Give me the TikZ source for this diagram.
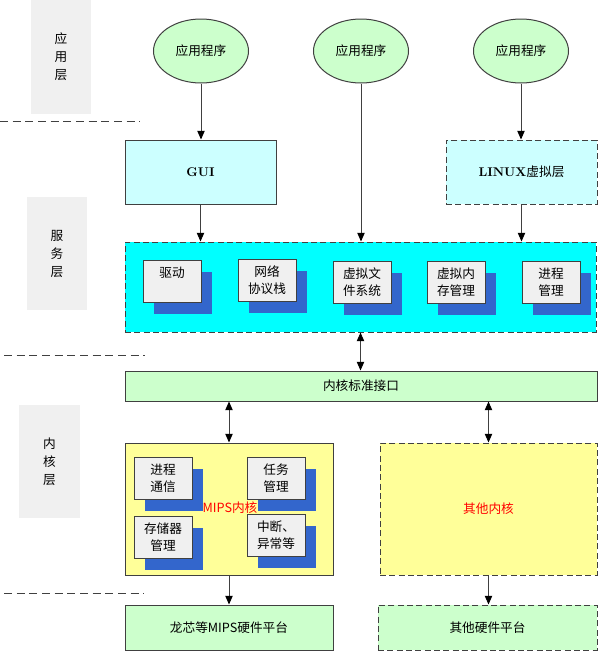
\documentclass[tikz,border=0pt]{standalone}
\usepackage{fontspec}
\newfontfamily\cjk{Noto Sans CJK SC}
\usetikzlibrary{arrows.meta,shapes.geometric}
\definecolor{lichtgroen}{HTML}{CCFFCC}
\definecolor{lichtblauw}{HTML}{CCFFFF}
\definecolor{cyaan}{HTML}{00FFFF}
\definecolor{geel}{HTML}{FFFF99}
\definecolor{schaduwblauw}{HTML}{3366CC}
\definecolor{grijs}{HTML}{F0F0F0}
\definecolor{rand}{HTML}{404040}
\tikzset{
  kader/.style={draw=rand, line width=0.75pt, inner sep=0pt},
  streep/.style={dash pattern=on 4.5pt off 2.5pt},
  scheiding/.style={draw=rand, line width=0.75pt, dash pattern=on 6pt off 3.5pt},
  pijl/.style={draw=rand, line width=0.75pt, -{Triangle[length=6.5pt,width=5.5pt,color=black]}},
  dubbelpijl/.style={draw=rand, line width=0.75pt, {Triangle[length=6.5pt,width=5.5pt,color=black]}-{Triangle[length=6.5pt,width=5.5pt,color=black]}},
  tekst/.style={font=\cjk\fontsize{9.5}{12.5}\selectfont, align=center},
  laag/.style={draw=none, fill=grijs, font=\cjk\fontsize{9.5}{13.5}\selectfont},
}
\NewDocumentCommand{\blok}{O{} m m m m m m}{ % stijl, naam, x1, y1, x2, y2, tekst
  \node[kader, tekst, #1, minimum width={(#5-#3)*0.75pt}, minimum height={(#6-#4)*0.75pt}] (#2) at ({(#3+#5)/2},{(#4+#6)/2}) {#7};
}
\newcommand{\schaduwblok}[4]{ % naam, x1, y1, tekst
  \fill[schaduwblauw] ({#2+11},{#3+12}) rectangle ({#2+69},{#3+54});
  \blok[fill=grijs]{#1}{#2}{#3}{#2+58}{#3+42}{#4}
}

\begin{document}
\begin{tikzpicture}[x=0.75pt, y=-0.75pt]
    \useasboundingbox (0,0) rectangle (598,651);

    % lagen
    \blok[laag]{applaag}{31}{0}{91}{114}{应\\用\\层}
    \blok[laag]{dienstlaag}{27}{197}{87}{310}{服\\务\\层}
    \blok[laag]{kernlaag}{19}{405}{80}{518}{内\\核\\层}
    \draw[scheiding] (0,121) -- (140,121);
    \draw[scheiding] (4,355) -- (145,355);
    \draw[scheiding] (4,593) -- (144,593);

    % applicaties
    \node[kader, ellipse, fill=lichtgroen, tekst, minimum width=71.25pt, minimum height=48pt] (app1) at (201,51) {应用程序};
    \node[kader, ellipse, fill=lichtgroen, tekst, minimum width=71.25pt, minimum height=48pt] (app2) at (361,51) {应用程序};
    \node[kader, ellipse, fill=lichtgroen, tekst, minimum width=71.25pt, minimum height=48pt] (app3) at (521,51) {应用程序};

    % diensten
    \blok[fill=lichtblauw, font=\bfseries\fontsize{9.5}{12}\selectfont]{gui}{125}{140}{276}{204}{GUI}
    \blok[fill=lichtblauw, streep]{linux}{446}{140}{597}{204}{{\rmfamily\bfseries LINUX}虚拟层}
    \blok[fill=cyaan, streep]{diensten}{125}{242}{596}{332}{}
    \schaduwblok{driver}{143}{260}{驱动\\\mbox{}}
    \schaduwblok{netwerk}{238}{259}{网络\\协议栈}
    \schaduwblok{vfs}{333}{261}{虚拟文\\件系统}
    \schaduwblok{vmm}{427}{261}{虚拟内\\存管理}
    \schaduwblok{proces}{522}{261}{进程\\管理}

    % kern
    \blok[fill=lichtgroen]{interface}{125}{371}{597}{401}{内核标准接口}
    \blok[fill=geel]{mips}{125}{443}{333}{575}{}
    \node[tekst, text=red] (mipslabel) at (230,508) {MIPS内核};
    \schaduwblok{ipc}{134}{457}{进程\\通信}
    \schaduwblok{taak}{247}{457}{任务\\管理}
    \schaduwblok{geheugen}{134}{516}{存储器\\管理}
    \schaduwblok{irq}{247}{514}{中断、\\异常等}
    \blok[fill=geel, streep, text=red]{anderekern}{380}{443}{597}{575}{其他内核}

    % hardware
    \blok[fill=lichtgroen]{loongson}{125}{605}{333}{650}{龙芯等MIPS硬件平台}
    \blok[fill=lichtgroen, streep]{anderehw}{378}{605}{597}{650}{其他硬件平台}

    % pijlen
    \draw[pijl] (app1) -- (app1 |- gui.north);
    \draw[pijl] (app2) -- (app2 |- diensten.north);
    \draw[pijl] (app3) -- (app3 |- linux.north);
    \draw[pijl] (gui.south) -- (gui.south |- diensten.north);
    \draw[pijl] (linux.south) -- (linux.south |- diensten.north);
    \draw[dubbelpijl] (diensten.south) -- (diensten.south |- interface.north);
    \draw[dubbelpijl] (mips.north) -- (mips.north |- interface.south);
    \draw[dubbelpijl] (anderekern.north) -- (anderekern.north |- interface.south);
    \draw[pijl] (mips.south) -- (mips.south |- loongson.north);
    \draw[pijl] (anderekern.south) -- (anderekern.south |- anderehw.north);
\end{tikzpicture}
\end{document}
